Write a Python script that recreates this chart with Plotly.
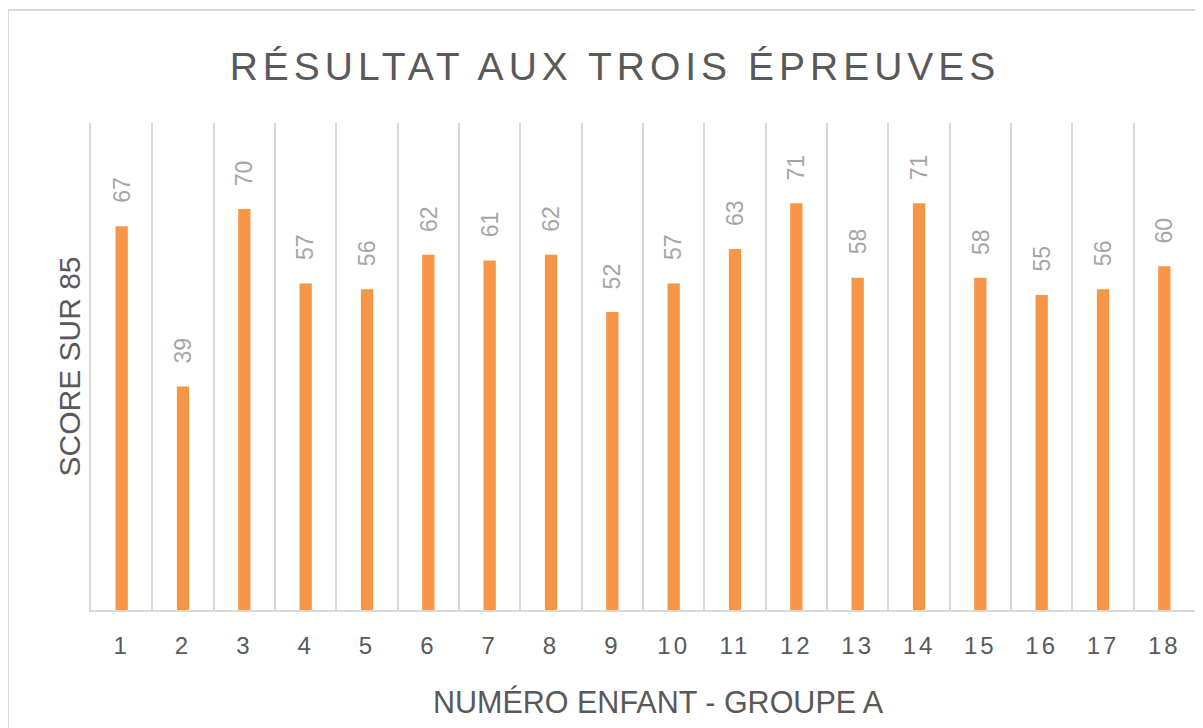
import plotly.graph_objects as go

categories = [str(i) for i in range(1, 19)]
scores = [67, 39, 70, 57, 56, 62, 61, 62, 52, 57, 63, 71, 58, 71, 58, 55, 56, 60]

title_text = "RÉSULTAT AUX TROIS ÉPREUVES"
x_title = "NUMÉRO ENFANT - GROUPE A"
y_title = "SCORE SUR 85"

BAR_COLOR = "#F79646"
GRID = "#D9D9D9"
TXT = "#595959"
LBL = "#A6A6A6"
FONT = "Liberation Sans, Arial, sans-serif"

fig = go.Figure()
fig.add_trace(go.Bar(
    x=categories, y=scores, width=0.2,
    marker=dict(color=BAR_COLOR, line=dict(width=0)),
    hoverinfo="x+y",
))

# data labels (x given as category index)
for i, v in enumerate(scores):
    fig.add_annotation(
        x=i, y=v, xref="x", yref="y", text=str(v), showarrow=False,
        textangle=-90, yanchor="bottom", xanchor="center", yshift=21,
        font=dict(family=FONT, size=23, color=LBL),
    )

# page body has an 8px margin: figure sized to fit the window
W, H = 1195, 720
L, R, T, B = 83, 8, 115, 118
pw, ph = W - L - R, H - T - B

fig.add_shape(
    type="rect", xref="paper", yref="paper",
    x0=(0 - L) / pw, x1=1.2, y0=-1.0, y1=(H - B - 2) / ph,
    line=dict(color=GRID, width=2), fillcolor="rgba(0,0,0,0)", layer="below",
)

# x-axis title (placed slightly right of the plot centre, as in the original)
fig.add_annotation(
    text=x_title, xref="paper", yref="paper",
    x=(650 - L) / pw, y=-(702 - 8 - (H - B)) / ph,
    xanchor="center", yanchor="middle", showarrow=False,
    font=dict(family=FONT, size=30.5, color=TXT),
)

fig.update_layout(
    width=W, height=H,
    margin=dict(l=L, r=R, t=T, b=B, autoexpand=False),
    paper_bgcolor="white", plot_bgcolor="white",
    showlegend=False,
    font=dict(family=FONT, color=TXT),
    title=dict(
        text=f'<span style="letter-spacing:5px">{title_text}</span>',
        x=607 / W, xanchor="center", y=1 - 58 / H, yanchor="middle",
        font=dict(family=FONT, size=39, color=TXT),
    ),
    bargap=0.8,
)

fig.update_xaxes(
    type="category",
    tickmode="array", tickvals=categories,
    ticktext=[f'<span style="letter-spacing:3px">{c}</span>' for c in categories],
    tickson="boundaries", ticks="", showgrid=True, gridcolor=GRID, gridwidth=2,
    showline=True, linecolor=GRID, linewidth=2,
    tickfont=dict(family=FONT, size=24, color=TXT),
    ticklabelstandoff=13,
)
fig.update_yaxes(
    range=[0, 85], showgrid=False, zeroline=False, showticklabels=False, ticks="",
    showline=True, mirror=True, linecolor=GRID, linewidth=2,
    title=dict(text=y_title, font=dict(family=FONT, size=30, color=TXT), standoff=0),
)

fig.write_html("out.html")
